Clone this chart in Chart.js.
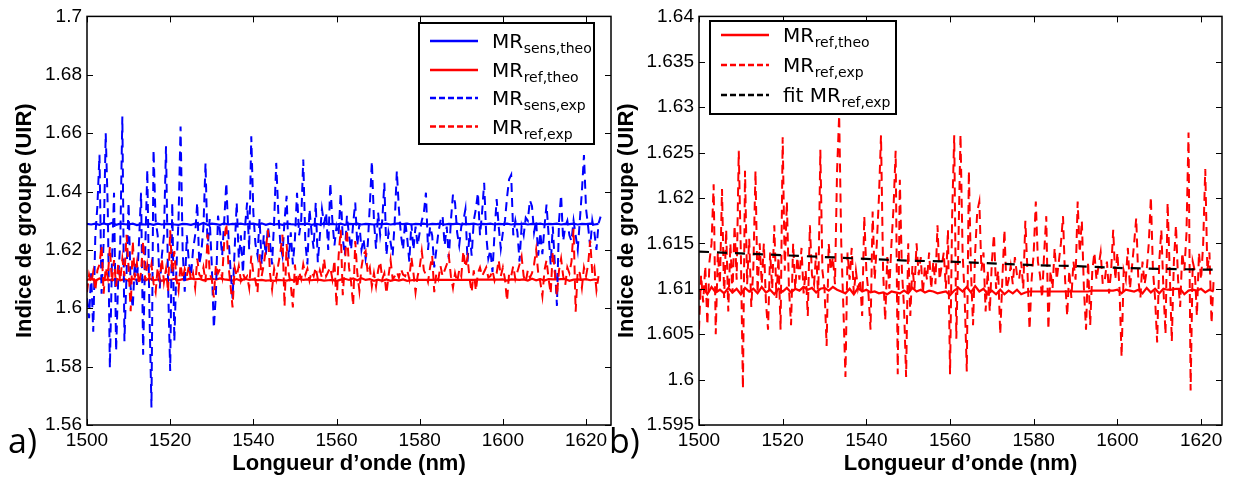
<!DOCTYPE html>
<html><head><meta charset="utf-8">
<script src="https://cdn.jsdelivr.net/npm/chart.js@4.4.1/dist/chart.umd.min.js"></script>
<style>
html,body{margin:0;padding:0;background:#fff;}
body{width:1238px;height:482px;position:relative;overflow:hidden;}
canvas{position:absolute;top:0;}
#c1{left:0;} #c2{left:612px;}
.lab{position:absolute;font-family:"Open Sans";font-size:34px;line-height:1;color:#000;}
</style></head><body>
<canvas id="c1" width="618" height="482"></canvas>
<canvas id="c2" width="626" height="482"></canvas>
<div class="lab" style="left:8px;top:423px">a)</div>
<div class="lab" style="left:609px;top:423px">b)</div>
<script>
// ---- sampling grids (nm) ----
const EXP_START = 1500, EXP_STEP = 0.5;
const THEO_START = 1500, THEO_STEP = 1;

// ---- MR_ref,exp (1500 .. 1623 nm, 0.5 nm) ----
const refExp = [
1.6055,1.6115,1.6085,1.6125,1.6060,1.6130,1.6150,1.6215,1.6050,1.6140,
1.6105,1.6210,1.6090,1.6165,1.6075,1.6150,1.6095,1.6170,1.6110,1.6252,
1.6140,1.5990,1.6230,1.6105,1.6155,1.6080,1.6125,1.6230,1.6095,1.6150,
1.6105,1.6150,1.6085,1.6055,1.6140,1.6100,1.6170,1.6090,1.6135,1.6055,
1.6267,1.6120,1.6196,1.6100,1.6060,1.6150,1.6100,1.6135,1.6110,1.6145,
1.6095,1.6120,1.6070,1.6170,1.6115,1.6105,1.6140,1.6090,1.6253,1.6120,
1.6100,1.6037,1.6150,1.6120,1.6135,1.6105,1.6230,1.6291,1.6150,1.6080,
1.6003,1.6140,1.6110,1.6145,1.6095,1.6120,1.6100,1.6110,1.6070,1.6180,
1.6120,1.6095,1.6055,1.6185,1.6110,1.6150,1.6200,1.6269,1.6120,1.6065,
1.6135,1.6100,1.6150,1.6190,1.6252,1.6006,1.6220,1.6120,1.6080,1.6003,
1.6150,1.6070,1.6125,1.6100,1.6150,1.6115,1.6135,1.6095,1.6125,1.6110,
1.6140,1.6100,1.6130,1.6105,1.6170,1.6110,1.6125,1.6140,1.6100,1.6165,
1.6006,1.6180,1.6269,1.6045,1.6150,1.6270,1.6140,1.6090,1.6009,1.6230,
1.6120,1.6060,1.6140,1.6185,1.6196,1.6120,1.6140,1.6075,1.6120,1.6075,
1.6130,1.6160,1.6100,1.6120,1.6050,1.6110,1.6165,1.6100,1.6110,1.6125,
1.6105,1.6135,1.6115,1.6110,1.6130,1.6100,1.6175,1.6120,1.6055,1.6110,
1.6140,1.6196,1.6130,1.6115,1.6090,1.6140,1.6180,1.6055,1.6120,1.6100,
1.6145,1.6110,1.6130,1.6150,1.6180,1.6110,1.6070,1.6120,1.6090,1.6130,
1.6110,1.6196,1.6140,1.6175,1.6100,1.6055,1.6130,1.6060,1.6120,1.6140,
1.6110,1.6125,1.6140,1.6105,1.6110,1.6130,1.6095,1.6120,1.6165,1.6110,
1.6140,1.6100,1.6025,1.6120,1.6110,1.6145,1.6100,1.6125,1.6150,1.6178,
1.6110,1.6090,1.6130,1.6105,1.6120,1.6150,1.6201,1.6120,1.6090,1.6041,
1.6130,1.6165,1.6100,1.6050,1.6195,1.6120,1.6042,1.6130,1.6170,1.6110,
1.6080,1.6140,1.6120,1.6160,1.6272,1.5988,1.6130,1.6120,1.6070,1.6140,
1.6110,1.6150,1.6232,1.6120,1.6140,1.6062,1.6110
];

// ---- MR_sens,exp (1500 .. 1623.5 nm, 0.5 nm) ----
const sensExp = [
1.6034,1.5966,1.6120,1.5920,1.6250,1.6350,1.6526,1.6050,1.6226,1.6600,
1.6340,1.5796,1.6158,1.6396,1.5853,1.6100,1.6226,1.6657,1.5887,1.6113,
1.6362,1.6068,1.6000,1.6158,1.6080,1.6226,1.6396,1.5841,1.6200,1.6475,
1.6000,1.5660,1.6543,1.6300,1.6250,1.6068,1.6180,1.6250,1.6555,1.6080,
1.5785,1.6362,1.5887,1.6136,1.6300,1.6623,1.6200,1.6057,1.6250,1.6158,
1.6110,1.6200,1.6250,1.6362,1.6150,1.6192,1.6280,1.6498,1.6200,1.6306,
1.6150,1.5932,1.6050,1.6317,1.6260,1.6180,1.6300,1.6430,1.6250,1.6136,
1.6034,1.6200,1.6362,1.6170,1.6250,1.6120,1.6280,1.6362,1.6200,1.6589,
1.6328,1.6220,1.6181,1.6306,1.6150,1.6250,1.6181,1.6280,1.6226,1.6150,
1.6300,1.6498,1.6328,1.6220,1.6181,1.6300,1.6385,1.6170,1.6260,1.6150,
1.6238,1.6396,1.6250,1.6300,1.6510,1.6226,1.6150,1.6340,1.6260,1.6204,
1.6362,1.6158,1.6250,1.6340,1.6290,1.6328,1.6200,1.6430,1.6300,1.6215,
1.6280,1.6250,1.6396,1.6240,1.6181,1.6317,1.6250,1.6200,1.6290,1.6362,
1.6215,1.6290,1.6200,1.6238,1.6170,1.6215,1.6350,1.6504,1.6300,1.6204,
1.6328,1.6250,1.6300,1.6430,1.6181,1.6260,1.6226,1.6181,1.6300,1.6470,
1.6340,1.6250,1.6200,1.6300,1.6240,1.6160,1.6290,1.6200,1.6280,1.6215,
1.6260,1.6300,1.6328,1.6396,1.6200,1.6280,1.6250,1.6140,1.6200,1.6260,
1.6300,1.6317,1.6215,1.6280,1.6170,1.6300,1.6390,1.6362,1.6260,1.6215,
1.6280,1.6300,1.6340,1.6160,1.6260,1.6180,1.6300,1.6340,1.6396,1.6250,
1.6328,1.6430,1.6250,1.6170,1.6200,1.6124,1.6260,1.6374,1.6280,1.6204,
1.6260,1.6300,1.6380,1.6442,1.6457,1.6250,1.6300,1.6260,1.6160,1.6280,
1.6250,1.6310,1.6300,1.6370,1.6350,1.6260,1.6300,1.6180,1.6260,1.6185,
1.6280,1.6355,1.6250,1.6150,1.6280,1.6150,1.6008,1.6300,1.6388,1.6230,
1.6280,1.6300,1.6250,1.6230,1.6300,1.6250,1.6200,1.6300,1.6400,1.6525,
1.6340,1.6280,1.6210,1.6300,1.6260,1.6200,1.6290,1.6314
];

// ---- MR_ref,theo (1500 .. 1623 nm, 1 nm) ----
const refTheo = [
1.6097,1.6101,1.6094,1.6102,1.6096,1.6099,1.6095,1.6101,1.6096,1.6100,
1.6094,1.6101,1.6097,1.6100,1.6095,1.6102,1.6096,1.6099,1.6094,1.6100,
1.6097,1.6101,1.6096,1.6100,1.6098,1.6102,1.6099,1.6101,1.6096,1.6100,
1.6101,1.6098,1.6102,1.6099,1.6097,1.6095,1.6100,1.6094,1.6101,1.6097,
1.6099,1.6096,1.6097,1.6095,1.6096,1.6094,1.6097,1.6096,1.6095,1.6098,
1.6095,1.6101,1.6097,1.6099,1.6096,1.6098,1.6097,1.6095,1.6096,1.6097,
1.6093,1.6098,1.6101,1.6097,1.6102,1.6096,1.6103,1.6097,1.6100,1.6094,
1.6098,1.6094,1.6099,1.6094,1.6098,1.6095,1.6099,1.6094,1.6096,1.6097,
1.6097,1.6097,1.6097,1.6097,1.6097,1.6097,1.6097,1.6097,1.6097,1.6097,
1.6097,1.6097,1.6097,1.6097,1.6098,1.6098,1.6098,1.6098,1.6098,1.6098,
1.6099,1.6095,1.6099,1.6098,1.6097,1.6099,1.6095,1.6101,1.6096,1.6100,
1.6095,1.6100,1.6099,1.6099,1.6100,1.6100,1.6094,1.6098,1.6099,1.6098,
1.6100,1.6096,1.6099,1.6097
];

// ---- MR_sens,theo (1500 .. 1623 nm, 1 nm) ----
const sensTheo = [
1.6289,1.6287,1.6290,1.6286,1.6291,1.6287,1.6292,1.6286,1.6290,1.6288,
1.6287,1.6290,1.6285,1.6288,1.6287,1.6289,1.6286,1.6290,1.6287,1.6289,
1.6288,1.6287,1.6286,1.6289,1.6288,1.6286,1.6290,1.6287,1.6292,1.6286,
1.6290,1.6288,1.6286,1.6291,1.6287,1.6289,1.6288,1.6290,1.6287,1.6289,
1.6290,1.6287,1.6291,1.6286,1.6290,1.6287,1.6289,1.6286,1.6290,1.6288,
1.6287,1.6289,1.6288,1.6290,1.6286,1.6289,1.6287,1.6290,1.6288,1.6289,
1.6287,1.6290,1.6286,1.6289,1.6288,1.6290,1.6287,1.6289,1.6288,1.6287,
1.6289,1.6288,1.6290,1.6287,1.6289,1.6291,1.6288,1.6290,1.6287,1.6289,
1.6288,1.6290,1.6287,1.6289,1.6288,1.6290,1.6287,1.6289,1.6288,1.6290,
1.6287,1.6289,1.6288,1.6290,1.6287,1.6289,1.6288,1.6290,1.6287,1.6289,
1.6288,1.6290,1.6287,1.6289,1.6288,1.6290,1.6287,1.6289,1.6288,1.6290,
1.6287,1.6289,1.6288,1.6290,1.6287,1.6289,1.6288,1.6290,1.6287,1.6289,
1.6288,1.6290,1.6287,1.6289
];

// ---- fit MR_ref,exp ----
const fitWl  = [1500,1510,1520,1530,1540,1550,1560,1570,1580,1590,1600,1610,1623];
const fitVal = [1.6141,1.6139,1.6137,1.6135,1.6133,1.6131,1.6130,1.6128,1.6126,1.6125,1.6123,1.6122,1.6121];

// ---- ticks ----
const xTicks  = [1500,1520,1540,1560,1580,1600,1620];
const yTicksA = [1.56,1.58,1.6,1.62,1.64,1.66,1.68,1.7];
const yTicksB = [1.595,1.6,1.605,1.61,1.615,1.62,1.625,1.63,1.635,1.64];

const pts = (arr, start, step) => arr.map((v, i) => ({x: start + i * step, y: v}));
const ptsXY = (xs, ys) => xs.map((x, i) => ({x: x, y: ys[i]}));

const BLUE = '#0000ff', RED = '#ff0000', BLACK = '#000000';
const AX_FONT = 'Liberation Sans';

const framePlugin = {
  id: 'frame',
  afterDraw(chart, args, o) {
    const {ctx, chartArea: a, scales: {x, y}} = chart;
    ctx.save();
    ctx.strokeStyle = '#000';
    ctx.lineWidth = 1;
    ctx.setLineDash([]);
    ctx.beginPath();
    x.ticks.forEach(t => {
      const px = Math.round(x.getPixelForValue(t.value)) + 0.5;
      ctx.moveTo(px, a.bottom); ctx.lineTo(px, a.bottom - 6);
      ctx.moveTo(px, a.top); ctx.lineTo(px, a.top + 6);
    });
    y.ticks.forEach(t => {
      const py = Math.round(y.getPixelForValue(t.value)) + 0.5;
      ctx.moveTo(a.left, py); ctx.lineTo(a.left + 6, py);
      ctx.moveTo(a.right, py); ctx.lineTo(a.right - 6, py);
    });
    ctx.stroke();
    ctx.lineWidth = 1.5;
    ctx.strokeRect(a.left, a.top, a.right - a.left, a.bottom - a.top);

    // legend
    const L = o.legend;
    ctx.fillStyle = '#fff';
    ctx.fillRect(L.x, L.y, L.w, L.h);
    ctx.lineWidth = 2;
    ctx.strokeStyle = '#000';
    ctx.strokeRect(L.x, L.y, L.w, L.h);
    L.items.forEach((it, i) => {
      const ry = L.rows[i];
      ctx.beginPath();
      ctx.strokeStyle = it.color;
      ctx.lineWidth = 2.5;
      ctx.setLineDash(it.dash);
      ctx.moveTo(L.s0, ry); ctx.lineTo(L.s1, ry);
      ctx.stroke();
      ctx.setLineDash([]);
      ctx.fillStyle = '#000';
      ctx.textBaseline = 'alphabetic';
      ctx.textAlign = 'left';
      ctx.font = '20px "DejaVu Sans"';
      ctx.fillText(it.main, L.tx, ry + 7);
      const w = ctx.measureText(it.main).width;
      ctx.font = '14px "DejaVu Sans"';
      ctx.fillText(it.sub, L.tx + w + 0.5, ry + 12);
    });
    ctx.restore();
  }
};

function makeOptions(c) {
  return {
    responsive: false,
    animation: false,
    events: [],
    layout: {padding: {left: 0, top: 13, right: c.padRight, bottom: 0}},
    plugins: {legend: {display: false}, tooltip: {enabled: false}, frame: {legend: c.legend}},
    scales: {
      x: {
        type: 'linear', min: 1500, max: c.xmax,
        grid: {display: false, drawTicks: false},
        border: {display: false},
        afterBuildTicks: s => { s.ticks = xTicks.map(v => ({value: v})); },
        afterFit: s => { s.height = 57; },
        ticks: {font: {family: AX_FONT, size: 19}, color: '#000', padding: 4, maxRotation: 0, autoSkip: false,
                callback: v => String(v)},
        title: {display: true, text: 'Longueur d\u2019onde (nm)', color: '#000',
                font: {family: AX_FONT, size: 22, weight: 'bold'}, padding: {top: 0, bottom: 5}}
      },
      y: {
        type: 'linear', min: c.ymin, max: c.ymax,
        grid: {display: false, drawTicks: false},
        border: {display: false},
        afterBuildTicks: s => { s.ticks = c.yTicks.map(v => ({value: v})); },
        afterFit: s => { s.width = 87; },
        ticks: {font: {family: AX_FONT, size: 19}, color: '#000', padding: 5, autoSkip: false,
                callback: v => String(+Number(v).toFixed(3))},
        title: {display: true, text: 'Indice de groupe (UIR)', color: '#000',
                font: {family: AX_FONT, size: 22, weight: 'bold'}, padding: {top: c.titlePad, bottom: 0}}
      }
    }
  };
}

const lineDs = (data, color, dash, width, order) => ({
  data, borderColor: color, borderWidth: width, borderDash: dash, pointRadius: 0,
  fill: false, tension: 0, order
});

const EXP_DASH = [9, 6];

new Chart(document.getElementById('c1'), {
  type: 'line',
  data: {datasets: [
    lineDs(pts(sensTheo, THEO_START, THEO_STEP), BLUE, [], 2.2, 3),
    lineDs(pts(refTheo, THEO_START, THEO_STEP), RED, [], 2.2, 2),
    lineDs(pts(sensExp, EXP_START, EXP_STEP), BLUE, EXP_DASH, 2, 1),
    lineDs(pts(refExp, EXP_START, EXP_STEP), RED, EXP_DASH, 2, 0)
  ]},
  options: makeOptions({
    padRight: 7, xmax: 1626, ymin: 1.56, ymax: 1.7, yTicks: yTicksA, titlePad: 11.6,
    legend: {x: 419, y: 23, w: 175, h: 121, s0: 430, s1: 478, tx: 492, rows: [41, 70, 98, 126.5],
      items: [
        {color: BLUE, dash: [], main: 'MR', sub: 'sens,theo'},
        {color: RED, dash: [], main: 'MR', sub: 'ref,theo'},
        {color: BLUE, dash: [6, 3], main: 'MR', sub: 'sens,exp'},
        {color: RED, dash: [6, 3], main: 'MR', sub: 'ref,exp'}
      ]}
  }),
  plugins: [framePlugin]
});

new Chart(document.getElementById('c2'), {
  type: 'line',
  data: {datasets: [
    lineDs(pts(refTheo, THEO_START, THEO_STEP), RED, [], 2.2, 2),
    lineDs(pts(refExp, EXP_START, EXP_STEP), RED, EXP_DASH, 2, 1),
    lineDs(ptsXY(fitWl, fitVal), BLACK, [10, 8], 2.2, 0)
  ]},
  options: makeOptions({
    padRight: 16, xmax: 1625, ymin: 1.595, ymax: 1.64, yTicks: yTicksB, titlePad: 1.8,
    legend: {x: 98, y: 21, w: 186, h: 93, s0: 109, s1: 157, tx: 171, rows: [35, 65, 95],
      items: [
        {color: RED, dash: [], main: 'MR', sub: 'ref,theo'},
        {color: RED, dash: [6, 3], main: 'MR', sub: 'ref,exp'},
        {color: BLACK, dash: [6, 3], main: 'fit MR', sub: 'ref,exp'}
      ]}
  }),
  plugins: [framePlugin]
});
</script>
</body></html>
